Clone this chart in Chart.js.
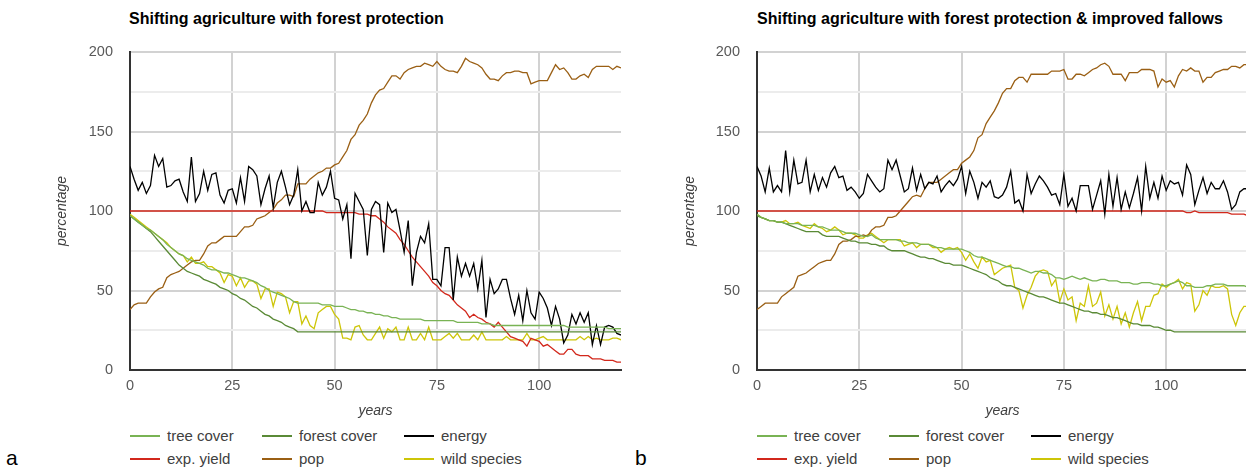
<!DOCTYPE html>
<html>
<head>
<meta charset="utf-8">
<script src="https://cdn.jsdelivr.net/npm/chart.js@4.4.1/dist/chart.umd.min.js"></script>
<style>
    html, body { margin: 0; padding: 0; background: #fff; overflow: hidden; }
    body { width: 1246px; height: 471px; position: relative; font-family: "Liberation Sans", Arial, sans-serif; }
    .title { position: absolute; top: 10px; font-weight: bold; font-size: 16px; color: #000; white-space: nowrap; }
    .panel-tag { position: absolute; top: 446px; font-size: 21px; color: #000; }
    .leg { position: absolute; font-size: 15px; color: #404040; white-space: nowrap; }
    .leg i { position: absolute; left: 0; top: 8px; width: 30px; height: 2px; }
    .leg span { position: absolute; left: 37px; top: 0; }
    canvas { position: absolute; top: 0; }
</style>
</head>
<body>
<div class="title" style="left:129px">Shifting agriculture with forest protection</div>
<div class="title" style="left:757px">Shifting agriculture with forest protection &amp; improved fallows</div>
<div class="panel-tag" style="left:6px">a</div>
<div class="panel-tag" style="left:635px">b</div>
<div id="legend-a"></div>
<div id="legend-b"></div>
<canvas id="chart-a" style="left:0px"></canvas>
<canvas id="chart-b" style="left:630px"></canvas>

<script>
// years 0..120 (x positions of every series value)
const years = Array.from({length: 121}, (_, i) => i);

const seriesNames = ['tree cover', 'forest cover', 'energy', 'exp. yield', 'pop', 'wild species'];
const seriesColors = ['#79b354', '#5a8a36', '#000000', '#d2281c', '#9a5f14', '#cdc508'];

// ---- a: shifting agriculture with forest protection
const treeCoverA = [97, 95, 93, 91, 89, 88, 86, 84, 82, 79, 77,
    75, 73, 72, 70, 69, 68, 67, 66, 64, 63,
    63, 62, 61, 61, 60, 59, 58, 58, 57, 56,
    55, 53, 52, 50, 49, 48, 47, 46, 45, 43,
    42, 42, 42, 42, 42, 42, 41, 41, 41, 40,
    40, 40, 39, 38, 38, 37, 37, 36, 36, 35,
    35, 34, 34, 33, 33, 32, 32, 32, 32, 32,
    32, 31, 31, 31, 31, 31, 31, 31, 31, 30,
    30, 30, 30, 30, 30, 29, 29, 29, 28, 28,
    28, 28, 28, 28, 28, 28, 28, 28, 28, 28,
    28, 28, 28, 28, 28, 28, 27, 27, 27, 27,
    27, 27, 27, 27, 27, 27, 26, 26, 26, 26];
const forestCoverA = [97, 95, 93, 91, 89, 87, 84, 81, 78, 75, 72,
    69, 66, 64, 62, 61, 60, 59, 57, 56, 55,
    54, 52, 51, 50, 48, 47, 45, 44, 42, 40,
    39, 37, 35, 34, 32, 31, 30, 28, 27, 26,
    24, 24, 24, 24, 24, 24, 24, 24, 24, 24,
    24, 24, 24, 24, 24, 24, 24, 24, 24, 24,
    24, 24, 24, 24, 24, 24, 24, 24, 24, 24,
    24, 24, 24, 24, 24, 24, 24, 24, 24, 24,
    24, 24, 24, 24, 24, 24, 24, 24, 24, 24,
    24, 24, 24, 24, 24, 24, 24, 24, 24, 24,
    24, 24, 24, 24, 24, 24, 24, 24, 24, 24,
    24, 24, 24, 24, 24, 24, 24, 24, 24, 24];
const energyA = [128, 120, 113, 118, 111, 116, 135, 128, 133, 115, 116,
    119, 120, 112, 106, 134, 106, 111, 125, 113, 123,
    124, 110, 105, 113, 114, 105, 121, 106, 128, 126,
    122, 104, 114, 122, 102, 118, 125, 115, 104, 110,
    126, 100, 106, 99, 99, 118, 110, 115, 125, 108,
    107, 95, 104, 70, 111, 106, 101, 72, 101, 106,
    104, 74, 105, 99, 101, 88, 74, 94, 53, 74,
    84, 80, 92, 57, 57, 53, 77, 77, 44, 71,
    59, 67, 59, 67, 51, 69, 33, 57, 48, 51,
    57, 57, 45, 35, 47, 31, 50, 36, 32, 49,
    45, 39, 28, 40, 32, 17, 22, 35, 29, 36,
    30, 36, 16, 28, 16, 27, 28, 27, 23, 22];
const yieldA = [100, 100, 100, 100, 100, 100, 100, 100, 100, 100, 100,
    100, 100, 100, 100, 100, 100, 100, 100, 100, 100,
    100, 100, 100, 100, 100, 100, 100, 100, 100, 100,
    100, 100, 100, 100, 100, 100, 100, 100, 100, 100,
    100, 100, 100, 100, 100, 100, 100, 99, 99, 99,
    99, 99, 99, 99, 99, 98, 98, 98, 97, 97,
    95, 93, 90, 88, 86, 82, 79, 75, 71, 68,
    65, 62, 59, 55, 53, 50, 48, 47, 44, 41,
    39, 37, 33, 35, 33, 32, 30, 29, 27, 30,
    27, 24, 21, 20, 19, 18, 15, 20, 19, 18,
    15, 16, 14, 12, 10, 10, 13, 13, 10, 9,
    9, 9, 7, 7, 7, 6, 6, 6, 5, 5];
const popA = [38, 41, 42, 42, 42, 46, 49, 51, 52, 58, 60,
    61, 62, 64, 66, 68, 69, 69, 73, 78, 80,
    80, 82, 84, 84, 84, 84, 87, 90, 90, 91,
    95, 96, 97, 99, 101, 105, 107, 110, 110, 109,
    117, 117, 117, 120, 122, 124, 125, 127, 127, 129,
    130, 134, 138, 145, 148, 154, 157, 161, 168, 173,
    176, 177, 181, 185, 185, 183, 187, 189, 190, 191,
    191, 193, 192, 191, 194, 191, 189, 188, 188, 187,
    191, 196, 194, 193, 192, 190, 186, 183, 183, 182,
    185, 187, 187, 188, 188, 187, 187, 180, 181, 182,
    182, 182, 187, 192, 189, 190, 187, 183, 183, 185,
    186, 184, 189, 191, 191, 191, 191, 189, 191, 190];
const wildA = [98, 96, 94, 92, 90, 88, 86, 84, 82, 80, 77,
    75, 73, 72, 68, 71, 67, 67, 68, 65, 65,
    63, 61, 55, 60, 59, 53, 58, 52, 56, 56,
    54, 45, 51, 51, 40, 49, 48, 46, 36, 43,
    43, 29, 34, 28, 26, 36, 38, 40, 40, 35,
    32, 20, 20, 19, 27, 28, 22, 19, 19, 23,
    27, 20, 26, 24, 27, 19, 19, 27, 19, 19,
    23, 19, 27, 19, 19, 19, 21, 23, 20, 23,
    19, 19, 19, 22, 19, 24, 19, 19, 19, 19,
    19, 21, 19, 19, 19, 19, 23, 19, 19, 20,
    21, 19, 19, 19, 19, 19, 19, 19, 19, 21,
    19, 21, 19, 20, 19, 19, 19, 20, 20, 19];

// ---- b: ... & improved fallows
const treeCoverB = [98, 96, 95, 94, 94, 93, 93, 92, 92, 92, 92,
    91, 91, 91, 91, 90, 90, 89, 88, 88, 88,
    87, 86, 86, 86, 85, 84, 84, 85, 83, 82,
    82, 82, 82, 82, 81, 81, 80, 80, 80, 79,
    79, 79, 78, 77, 77, 76, 76, 76, 76, 76,
    75, 74, 72, 71, 71, 70, 69, 68, 67, 66,
    65, 65, 64, 64, 63, 62, 61, 62, 62, 61,
    61, 60, 58, 58, 57, 58, 59, 58, 57, 58,
    57, 56, 56, 57, 57, 56, 56, 56, 55, 55,
    55, 54, 54, 55, 55, 55, 54, 54, 53, 53,
    54, 55, 56, 55, 53, 53, 52, 52, 52, 53,
    53, 54, 54, 54, 53, 53, 53, 53, 53, 52];
const forestCoverB = [97, 96, 95, 94, 94, 93, 93, 92, 91, 90, 89,
    88, 87, 87, 87, 87, 85, 84, 84, 84, 84,
    83, 82, 81, 81, 80, 80, 80, 79, 79, 78,
    78, 76, 75, 75, 75, 75, 74, 73, 72, 71,
    71, 70, 70, 69, 68, 67, 67, 66, 66, 66,
    65, 64, 63, 62, 61, 60, 58, 57, 56, 54,
    53, 53, 52, 51, 50, 49, 48, 47, 46, 46,
    45, 44, 43, 42, 42, 41, 40, 39, 38, 37,
    37, 36, 36, 35, 35, 34, 33, 33, 32, 31,
    30, 29, 29, 28, 28, 28, 27, 27, 26, 25,
    25, 24, 24, 24, 24, 24, 24, 24, 24, 24,
    24, 24, 24, 24, 24, 24, 24, 24, 24, 24];
const energyB = [128, 122, 112, 127, 112, 116, 112, 138, 112, 132, 117,
    118, 132, 112, 123, 113, 121, 115, 124, 128, 121,
    122, 113, 115, 112, 108, 111, 123, 119, 115, 112,
    114, 132, 126, 132, 122, 112, 114, 127, 113, 123,
    114, 118, 117, 122, 112, 116, 119, 116, 120, 128,
    111, 125, 118, 108, 118, 115, 119, 109, 108, 110,
    115, 125, 105, 107, 100, 123, 111, 117, 122, 119,
    115, 110, 111, 104, 123, 103, 108, 100, 116, 116,
    116, 101, 110, 119, 98, 123, 103, 121, 101, 112,
    102, 111, 121, 100, 128, 108, 118, 108, 122, 113,
    119, 117, 118, 110, 129, 123, 104, 113, 121, 111,
    118, 114, 114, 119, 112, 101, 104, 112, 114, 114];
const yieldB = [100, 100, 100, 100, 100, 100, 100, 100, 100, 100, 100,
    100, 100, 100, 100, 100, 100, 100, 100, 100, 100,
    100, 100, 100, 100, 100, 100, 100, 100, 100, 100,
    100, 100, 100, 100, 100, 100, 100, 100, 100, 100,
    100, 100, 100, 100, 100, 100, 100, 100, 100, 100,
    100, 100, 100, 100, 100, 100, 100, 100, 100, 100,
    100, 100, 100, 100, 100, 100, 100, 100, 100, 100,
    100, 100, 100, 100, 100, 100, 100, 100, 100, 100,
    100, 100, 100, 100, 100, 100, 100, 100, 100, 100,
    100, 100, 100, 100, 100, 100, 100, 100, 100, 100,
    100, 100, 100, 100, 99, 99, 100, 99, 99, 99,
    99, 99, 99, 99, 99, 98, 98, 98, 98, 97];
const popB = [38, 40, 42, 42, 42, 42, 46, 48, 50, 52, 59,
    60, 61, 63, 65, 67, 68, 69, 69, 73, 79,
    81, 81, 82, 84, 84, 85, 84, 88, 90, 90,
    91, 96, 96, 97, 100, 103, 106, 109, 110, 109,
    114, 118, 118, 118, 120, 122, 124, 126, 126, 130,
    132, 134, 138, 146, 148, 155, 159, 163, 168, 174,
    177, 177, 182, 184, 184, 181, 186, 186, 186, 186,
    186, 188, 188, 188, 189, 183, 183, 186, 186, 185,
    187, 189, 190, 192, 193, 191, 186, 186, 186, 182,
    187, 187, 187, 189, 189, 189, 188, 178, 183, 181,
    182, 178, 185, 189, 188, 190, 188, 188, 181, 184,
    184, 187, 188, 189, 189, 191, 191, 190, 192, 192];
const wildB = [98, 96, 95, 94, 94, 93, 93, 94, 92, 92, 93,
    91, 90, 89, 92, 90, 89, 87, 88, 90, 88,
    85, 86, 86, 85, 83, 83, 85, 86, 84, 82,
    80, 82, 82, 82, 82, 78, 79, 80, 77, 79,
    79, 79, 77, 77, 74, 76, 77, 76, 77, 74,
    69, 73, 68, 64, 71, 68, 69, 60, 62, 64,
    65, 66, 52, 50, 39, 47, 52, 59, 62, 63,
    62, 53, 57, 43, 51, 44, 46, 31, 42, 40,
    53, 40, 42, 49, 34, 41, 32, 40, 29, 36,
    27, 36, 43, 31, 40, 40, 47, 48, 54, 52,
    54, 55, 57, 51, 55, 54, 37, 41, 50, 47,
    53, 52, 52, 53, 51, 35, 28, 36, 40, 40];

const xTicks = [0, 25, 50, 75, 100];
const yTicks = [0, 50, 100, 150, 200];

const tickFont = { size: 14.5, family: '"Liberation Sans", Arial, sans-serif' };
const titleFont = { size: 14, style: 'italic', family: '"Liberation Sans", Arial, sans-serif' };

function buildLegend(id, left) {
    const box = document.getElementById(id);
    const cols = [0, 132, 274];
    seriesNames.forEach(function (name, i) {
        const el = document.createElement('div');
        el.className = 'leg';
        el.style.left = (left + cols[i % 3]) + 'px';
        el.style.top = (i < 3 ? 427 : 450) + 'px';
        el.innerHTML = '<i style="background:' + seriesColors[i] + '"></i><span>' + name + '</span>';
        box.appendChild(el);
    });
}

function drawPanel(id, width, axisWidth, padRight, titlePad, series) {
    const canvas = document.getElementById(id);
    canvas.width = width;
    canvas.height = 425;
    canvas.style.width = width + 'px';
    canvas.style.height = '425px';

    return new Chart(canvas, {
        type: 'line',
        data: {
            datasets: series.map(function (arr, i) {
                return {
                    label: seriesNames[i],
                    data: years.map(function (x, j) { return { x: x, y: arr[j] }; }),
                    borderColor: seriesColors[i],
                    borderWidth: 1.3,
                    pointRadius: 0,
                    tension: 0,
                    fill: false
                };
            })
        },
        options: {
            responsive: false,
            animation: false,
            layout: { padding: { top: 52, right: padRight, left: 0, bottom: 0 } },
            plugins: { legend: { display: false }, tooltip: { enabled: false } },
            scales: {
                x: {
                    type: 'linear',
                    min: 0,
                    max: 120,
                    afterFit: function (s) { s.height = 55; },
                    afterBuildTicks: function (s) { s.ticks = xTicks.map(function (v) { return { value: v }; }); },
                    ticks: { color: '#595959', font: tickFont, padding: 7, maxRotation: 0 },
                    grid: { color: '#d2d2d2', lineWidth: 2, drawTicks: false },
                    border: { color: '#333333', width: 2 },
                    title: { display: true, text: 'years', color: '#404040', font: titleFont, padding: { top: 0, bottom: 5 } }
                },
                y: {
                    min: 0,
                    max: 200,
                    afterFit: function (s) { s.width = axisWidth; },
                    afterBuildTicks: function (s) {
                        s.ticks = [0, 25, 50, 75, 100, 125, 150, 175, 200].map(function (v) { return { value: v }; });
                    },
                    ticks: {
                        color: '#595959', font: tickFont, padding: 17,
                        callback: function (v) { return yTicks.indexOf(v) >= 0 ? String(v) : ''; }
                    },
                    grid: {
                        drawTicks: false,
                        lineWidth: 2,
                        color: function (c) { return yTicks.indexOf(c.tick.value) >= 0 ? '#d2d2d2' : '#ececec'; }
                    },
                    border: { color: '#333333', width: 2 },
                    title: { display: true, text: 'percentage', color: '#404040', font: titleFont, padding: { top: titlePad, bottom: 0 } }
                }
            }
        }
    });
}

drawPanel('chart-a', 630, 130, 9, 54, [treeCoverA, forestCoverA, energyA, yieldA, popA, wildA]);
drawPanel('chart-b', 620, 127, 2, 52, [treeCoverB, forestCoverB, energyB, yieldB, popB, wildB]);
buildLegend('legend-a', 130);
buildLegend('legend-b', 757);
</script>
</body>
</html>
